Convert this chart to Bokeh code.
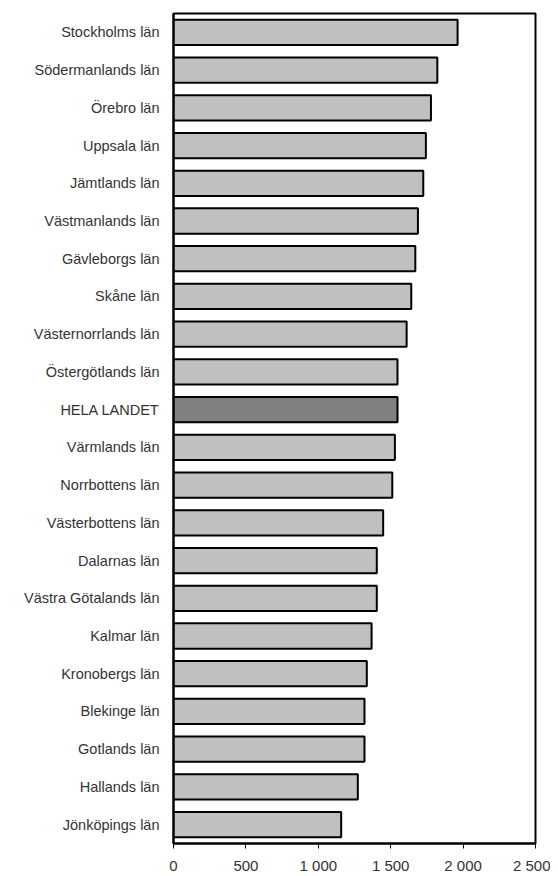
from bokeh.plotting import figure
from bokeh.models import Range1d, FactorRange, FixedTicker, ColumnDataSource
from bokeh.embed import file_html
from bokeh.resources import INLINE

regions = [
    "Stockholms län", "Södermanlands län", "Örebro län", "Uppsala län",
    "Jämtlands län", "Västmanlands län", "Gävleborgs län", "Skåne län",
    "Västernorrlands län", "Östergötlands län", "HELA LANDET", "Värmlands län",
    "Norrbottens län", "Västerbottens län", "Dalarnas län",
    "Västra Götalands län", "Kalmar län", "Kronobergs län", "Blekinge län",
    "Gotlands län", "Hallands län", "Jönköpings län",
]
values = [
    1962, 1822, 1778, 1743, 1725, 1688, 1670, 1642,
    1610, 1547, 1547, 1529, 1511, 1448, 1404,
    1404, 1368, 1335, 1319, 1319, 1273, 1158,
]
tick_values = [0, 500, 1000, 1500, 2000, 2500]
tick_labels = ["0", "500", "1 000", "1 500", "2 000", "2 500"]

colors = ["#808080" if r == "HELA LANDET" else "#c0c0c0" for r in regions]
src = ColumnDataSource(dict(region=regions, value=values, color=colors))

p = figure(
    width=550, height=876,
    y_range=FactorRange(factors=list(reversed(regions))),
    x_range=Range1d(0, 2500),
    output_backend="svg", toolbar_location=None,
    min_border_left=173, min_border_right=15,
    min_border_top=13, min_border_bottom=31,
)
p.hbar(y="region", right="value", left=0, height=0.67, source=src,
       fill_color="color", line_color="black", line_width=2)

p.outline_line_color = "black"
p.outline_line_width = 2
p.grid.visible = False
p.background_fill_color = "white"
p.border_fill_color = "white"

p.xaxis.ticker = FixedTicker(ticks=tick_values)
p.xaxis.major_label_overrides = {v: l for v, l in zip(tick_values, tick_labels)}
p.xaxis.axis_line_color = "black"
p.xaxis.axis_line_width = 2
p.xaxis.major_tick_out = 5
p.xaxis.major_tick_in = 0
p.xaxis.major_tick_line_color = "black"
p.xaxis.major_tick_line_width = 1
p.xaxis.minor_tick_line_color = None
p.xaxis.major_label_text_font = "Liberation Sans"
p.xaxis.major_label_text_font_size = "15px"
p.xaxis.major_label_text_color = "#333333"
p.xaxis.major_label_standoff = 8

p.yaxis.axis_line_color = "black"
p.yaxis.axis_line_width = 2
p.yaxis.major_tick_line_color = None
p.yaxis.minor_tick_line_color = None
p.yaxis.major_label_text_font = "Liberation Sans"
p.yaxis.major_label_text_font_size = "14.5px"
p.yaxis.major_label_text_color = "#333333"
p.yaxis.major_label_standoff = 8

open("out.html", "w").write(file_html(p, INLINE))
